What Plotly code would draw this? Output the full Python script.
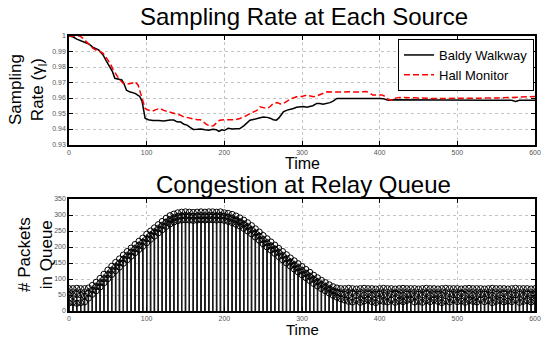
import plotly.graph_objects as go
from plotly.subplots import make_subplots

# ---------------- Data: sampling rate ----------------
baldy_t = [0, 5, 10, 14, 20, 25, 31, 38, 44, 48, 53, 56, 59, 63, 66, 68, 71, 74, 78, 82, 85, 88, 91, 94, 96, 98,
           102, 108, 115, 122, 130, 135, 139, 144, 148, 152, 156, 160, 165, 170, 175, 180, 185, 190, 193, 197, 200,
           205, 210, 215, 220, 225, 230, 233, 240, 245, 250, 255, 259, 263, 267, 270, 273, 276, 280, 285, 289, 293,
           297, 302, 306, 310, 314, 319, 323, 327, 332, 336, 340, 345, 360, 375, 385, 390, 395, 400, 405, 411, 420,
           440, 460, 468, 480, 500, 540, 570, 575, 580, 600]
baldy_v = [1.0, 0.9995, 0.998, 0.9974, 0.996, 0.995, 0.9927, 0.991, 0.9877, 0.984, 0.980, 0.977, 0.9727, 0.972,
           0.9718, 0.9716, 0.969, 0.965, 0.964, 0.9635, 0.963, 0.962, 0.961, 0.958, 0.952, 0.947,
           0.946, 0.9455, 0.9455, 0.9452, 0.9458, 0.9458, 0.9446, 0.9445, 0.943, 0.9425, 0.941, 0.9397, 0.9398,
           0.940, 0.9395, 0.9392, 0.9398, 0.9395, 0.9385, 0.9395, 0.939,
           0.9405, 0.940, 0.940, 0.9403, 0.942, 0.944, 0.9457, 0.9465, 0.947, 0.9478, 0.9475, 0.947, 0.946, 0.9457,
           0.947, 0.949, 0.951, 0.952, 0.9525, 0.9532, 0.954, 0.9543, 0.9545, 0.954, 0.9543, 0.955, 0.9565, 0.9565,
           0.956, 0.9565, 0.957, 0.958, 0.9597, 0.9597, 0.9597, 0.9598, 0.960, 0.9598, 0.9597, 0.9595, 0.9586,
           0.9588, 0.9588, 0.959, 0.9587, 0.9586, 0.9586, 0.9586, 0.9585, 0.9578, 0.9586, 0.9586]

hall_t = [0, 8, 14, 18, 23, 27, 31, 36, 40, 44, 48, 53, 57, 61, 65, 70, 75, 81, 85, 89, 93, 96, 98, 102, 107, 112,
          117, 122, 126, 130, 134, 139, 143, 147, 152, 156, 161, 165, 169, 173, 177, 182, 186, 190, 194, 200, 208,
          214, 220, 226, 233, 238, 242, 246, 250, 255, 259, 263, 268, 272, 276, 281, 286, 293, 300, 306, 311, 315,
          320, 325, 332, 340, 350, 360, 370, 378, 383, 388, 391, 397, 403, 407, 411, 415, 420, 426, 435, 445, 455,
          469, 480, 500, 520, 540, 555, 565, 575, 585, 592, 598, 600]
hall_v = [1.0, 1.0, 1.0, 0.9985, 0.9963, 0.994, 0.992, 0.9905, 0.990, 0.9888, 0.986, 0.9823, 0.978, 0.9748, 0.972,
          0.9694, 0.969, 0.9695, 0.9705, 0.9683, 0.962, 0.956, 0.9533, 0.9522, 0.9515, 0.9525, 0.9533, 0.952,
          0.9515, 0.951, 0.9505, 0.9495, 0.949, 0.948, 0.9475, 0.9468, 0.9465, 0.946, 0.946, 0.9445, 0.943, 0.9418,
          0.942, 0.944, 0.9457, 0.946, 0.9462, 0.946, 0.9468, 0.948, 0.950, 0.951, 0.952, 0.9543, 0.9538, 0.9532,
          0.9545, 0.9565, 0.957, 0.9562, 0.9565, 0.958, 0.9595, 0.9608, 0.961, 0.9619, 0.9612, 0.9608, 0.9615,
          0.9625, 0.964, 0.9638, 0.964, 0.964, 0.9638, 0.964, 0.9642, 0.963, 0.9619, 0.962, 0.962, 0.961, 0.959,
          0.9586, 0.9598, 0.9604, 0.9602, 0.9602, 0.960, 0.9597, 0.9597, 0.9597, 0.9597, 0.9598, 0.960, 0.9603,
          0.9605, 0.9605, 0.961, 0.9612, 0.961]

# ---------------- Data: relay queue (stems every 5 time units) ----------------
queue_t = list(range(0, 601, 5))
queue_upper = ([70, 70, 71, 70, 70] +
               [72, 80, 90, 102, 115, 128, 140, 152, 163, 175, 186, 197, 208, 218, 228, 240, 250, 260, 270, 280,
                290, 298, 303, 307, 309, 310, 309, 308, 309, 310, 309, 310, 310, 309, 310, 307] +
               [305, 302, 297, 291, 284, 276, 267, 257, 247, 236, 226, 216, 206, 196, 186, 176, 166, 157, 148, 139,
                130, 121, 112, 104, 96, 89, 82, 76, 72, 70] +
               [70, 71, 70, 69, 70, 71, 70, 70, 69, 70, 71, 70, 70, 69, 70, 71, 70, 70, 70, 69,
                70, 71, 70, 70, 69, 70, 71, 70, 70, 70, 69, 70, 71, 70, 70, 70, 69, 70, 71, 70,
                70, 70, 69, 70, 71, 70, 70, 70, 69, 70])
queue_mid = ([50, 48, 52, 50, 47] +
             [55, 65, 76, 88, 101, 114, 127, 139, 150, 162, 173, 184, 195, 205, 215, 226, 237, 247, 257, 267,
              277, 285, 291, 295, 297, 298, 297, 296, 297, 298, 297, 298, 298, 297, 298, 296] +
             [293, 289, 284, 278, 271, 263, 254, 244, 234, 223, 213, 203, 193, 183, 173, 163, 153, 144, 135, 126,
              117, 108, 99, 91, 83, 76, 69, 63, 58, 54] +
             [52, 50, 55, 48, 52, 50, 54, 49, 51, 53, 50, 48, 52, 55, 50, 49, 53, 51, 48, 52,
              50, 54, 49, 51, 52, 50, 48, 53, 51, 50, 55, 49, 52, 50, 48, 51, 53, 50, 49, 52,
              50, 54, 48, 51, 50, 52, 49, 53, 50, 51])
queue_lower = ([25, 27, 24, 26, 28] +
               [40, 52, 63, 75, 88, 101, 114, 126, 137, 149, 160, 171, 182, 192, 202, 213, 224, 234, 244, 254,
                264, 272, 278, 282, 284, 285, 284, 283, 284, 285, 284, 285, 285, 284, 285, 283] +
               [280, 276, 271, 265, 258, 250, 241, 231, 221, 210, 200, 190, 180, 170, 160, 150, 140, 131, 122, 113,
                104, 95, 86, 78, 70, 63, 56, 49, 43, 38] +
               [34, 30, 28, 33, 27, 31, 35, 29, 26, 32, 30, 28, 34, 27, 31, 29, 33, 36, 28, 30,
                27, 32, 29, 35, 30, 26, 31, 28, 34, 29, 31, 27, 33, 30, 28, 35, 29, 32, 26, 30,
                33, 28, 31, 29, 34, 27, 30, 32, 28, 31])

for s in (queue_upper, queue_mid, queue_lower):
    if len(s) != len(queue_t):
        raise ValueError(f"length mismatch {len(s)} vs {len(queue_t)}")

top_ticks = [0.93, 0.94, 0.95, 0.96, 0.97, 0.98, 0.99, 1.0]
top_ticktext = ["0.93", "0.94", "0.95", "0.96", "0.97", "0.98", "0.99", "1"]
x_ticks = [0, 100, 200, 300, 400, 500, 600]
bottom_ticks = [0, 50, 100, 150, 200, 250, 300, 350]

FONT = "Liberation Sans, Arial, Helvetica, sans-serif"

fig = make_subplots(rows=2, cols=1)

fig.add_trace(go.Scatter(x=baldy_t, y=baldy_v, mode="lines", name="Baldy Walkway",
                         line=dict(color="black", width=1.5)), row=1, col=1)
fig.add_trace(go.Scatter(x=hall_t, y=hall_v, mode="lines", name="Hall Monitor",
                         line=dict(color="#ff0000", width=1.5, dash="6px,3px")), row=1, col=1)

# stems
for series in (queue_upper, queue_mid, queue_lower):
    sx, sy = [], []
    for t, v in zip(queue_t, series):
        sx += [t, t, None]
        sy += [0, v, None]
    fig.add_trace(go.Scatter(x=sx, y=sy, mode="lines", showlegend=False,
                             line=dict(color="#1a1a1a", width=1.3)), row=2, col=1)
for series in (queue_upper, queue_mid, queue_lower):
    fig.add_trace(go.Scatter(x=queue_t, y=series, mode="markers", showlegend=False,
                             marker=dict(symbol="circle-open", size=6, color="black",
                                         line=dict(width=1, color="black"))), row=2, col=1)

xd = [69 / 541, 535 / 541]
axis_common = dict(showline=True, linecolor="black", linewidth=1.5, mirror="allticks",
                   ticks="inside", ticklen=4, tickcolor="black", automargin=False,
                   showgrid=True, gridcolor="#c4c4c4", griddash="dot", gridwidth=1,
                   tickfont=dict(size=7, color="#555555", family=FONT), zeroline=False)

fig.update_xaxes(domain=xd, range=[0, 600], tickvals=x_ticks, **axis_common)
fig.update_yaxes(**axis_common)
fig.update_yaxes(domain=[(337 - 144.5) / 337, (337 - 36) / 337], range=[0.93, 1.0],
                 tickvals=top_ticks, ticktext=top_ticktext, row=1, col=1)
fig.update_yaxes(domain=[(337 - 311) / 337, (337 - 199) / 337], range=[0, 350],
                 tickvals=bottom_ticks, row=2, col=1)

annotations = [
    dict(text="Sampling Rate at Each Source", x=304 / 541, y=1 - 17 / 337, font=dict(size=24)),
    dict(text="Time", x=302 / 541, y=1 - 164 / 337, font=dict(size=16)),
    dict(text="Congestion at Relay Queue", x=303 / 541, y=1 - 184 / 337, font=dict(size=24)),
    dict(text="Time", x=302 / 541, y=1 - 329 / 337, font=dict(size=15)),
    dict(text="Sampling<br>Rate (γ<sub>l</sub>)", x=28 / 541, y=1 - 90 / 337, font=dict(size=17), textangle=-90),
    dict(text="# Packets<br>in Queue", x=35 / 541, y=1 - 255 / 337, font=dict(size=17), textangle=-90),
]
for a in annotations:
    a.update(xref="paper", yref="paper", showarrow=False, xanchor="center", yanchor="middle")
    a["font"].update(family=FONT, color="black")

fig.update_layout(
    width=541, height=337, margin=dict(l=0, r=0, t=0, b=0),
    paper_bgcolor="white", plot_bgcolor="white",
    annotations=annotations,
    showlegend=True,
    legend=dict(x=534 / 541, y=1 - 39 / 337, xanchor="right", yanchor="top",
                bgcolor="white", bordercolor="black", borderwidth=1,
                font=dict(size=13, family=FONT, color="black"),
                tracegroupgap=0, itemwidth=30),
)

fig.write_html("out.html")
